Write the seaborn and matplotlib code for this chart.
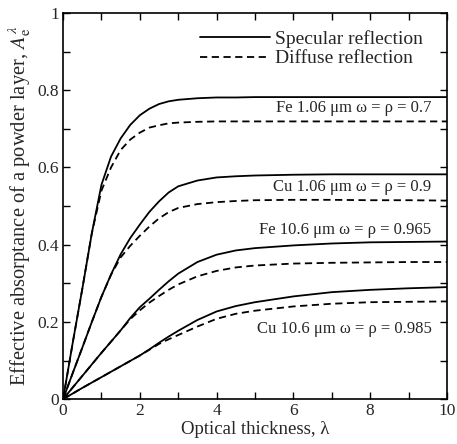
import numpy as np
import pandas as pd
import matplotlib
matplotlib.use("Agg")
import matplotlib.pyplot as plt
from matplotlib.ticker import MultipleLocator, FuncFormatter
from matplotlib.lines import Line2D
import seaborn as sns

# ---- data ----
lam = [0, 0.25, 0.5, 0.75, 1.0, 1.25, 1.5, 1.75, 2.0, 2.25, 2.5, 2.75, 3.0,
       3.5, 4.0, 4.5, 5.0, 6.0, 7.0, 8.0, 9.0, 10.0]

fe106_spec = [0, 0.145, 0.285, 0.43, 0.555, 0.628, 0.675, 0.71, 0.735, 0.752, 0.764,
              0.771, 0.775, 0.779, 0.781, 0.781, 0.782, 0.782, 0.782, 0.782, 0.782, 0.782]
fe106_diff = [0, 0.145, 0.285, 0.43, 0.54, 0.60, 0.645, 0.672, 0.69, 0.703, 0.709,
              0.714, 0.716, 0.718, 0.719, 0.719, 0.719, 0.719, 0.719, 0.719, 0.719, 0.719]

cu106_spec = [0, 0.067, 0.133, 0.2, 0.265, 0.323, 0.375, 0.417, 0.452, 0.485, 0.512,
              0.535, 0.551, 0.566, 0.574, 0.577, 0.579, 0.581, 0.582, 0.582, 0.582, 0.582]
cu106_diff = [0, 0.067, 0.133, 0.2, 0.265, 0.322, 0.367, 0.397, 0.423, 0.447, 0.468,
              0.484, 0.495, 0.505, 0.51, 0.513, 0.515, 0.516, 0.516, 0.515, 0.515, 0.514]

fe106b_spec = [0, 0.03, 0.06, 0.09, 0.12, 0.149, 0.178, 0.21, 0.238, 0.26, 0.283,
               0.305, 0.325, 0.355, 0.374, 0.385, 0.391, 0.398, 0.403, 0.406, 0.407, 0.408]
fe106b_diff = [0, 0.03, 0.06, 0.09, 0.12, 0.149, 0.178, 0.207, 0.23, 0.25, 0.267,
               0.283, 0.297, 0.318, 0.332, 0.341, 0.346, 0.351, 0.353, 0.354, 0.355, 0.355]

cu106b_spec = [0, 0.0145, 0.029, 0.043, 0.057, 0.071, 0.085, 0.099, 0.113, 0.129, 0.146,
               0.162, 0.177, 0.205, 0.227, 0.241, 0.251, 0.266, 0.277, 0.283, 0.287, 0.29]
cu106b_diff = [0, 0.0145, 0.029, 0.043, 0.057, 0.071, 0.085, 0.099, 0.113, 0.128, 0.143,
               0.155, 0.166, 0.188, 0.208, 0.221, 0.229, 0.24, 0.247, 0.251, 0.252, 0.253]

materials = ["Fe 1.06", "Cu 1.06", "Fe 10.6", "Cu 10.6"]
labels = ["Fe 1.06 \u03bcm \u03c9 = \u03c1 = 0.7",
          "Cu 1.06 \u03bcm \u03c9 = \u03c1 = 0.9",
          "Fe 10.6 \u03bcm \u03c9 = \u03c1 = 0.965",
          "Cu 10.6 \u03bcm \u03c9 = \u03c1 = 0.985"]
label_y = [0.753, 0.548, 0.439, 0.182]
legend_labels = ["Specular reflection", "Diffuse reflection"]

spec = [fe106_spec, cu106_spec, fe106b_spec, cu106b_spec]
diff = [fe106_diff, cu106_diff, fe106b_diff, cu106b_diff]

rows = []
for m, s, d in zip(materials, spec, diff):
    for x, v in zip(lam, s):
        rows.append((m, "Specular", x, v))
    for x, v in zip(lam, d):
        rows.append((m, "Diffuse", x, v))
df = pd.DataFrame(rows, columns=["material", "reflection", "lam", "value"])
df["curve"] = df["material"] + " " + df["reflection"]

# ---- plot ----
sns.set_style("ticks")
plt.rcParams["font.family"] = ["Liberation Serif", "DejaVu Serif"]
plt.rcParams["mathtext.fontset"] = "stix"

fig = plt.figure(figsize=(4.57, 4.44), dpi=100)
ax = fig.add_axes([0.138, 0.101, 0.840, 0.870])

sns.lineplot(data=df, x="lam", y="value", units="curve", estimator=None,
             style="reflection", dashes={"Specular": "", "Diffuse": (4, 2.5)},
             color="black", linewidth=1.3, ax=ax, legend=False, sort=False)

ax.set_xlim(0, 10)
ax.set_ylim(0, 1)
ax.xaxis.set_major_locator(MultipleLocator(2))
ax.xaxis.set_minor_locator(MultipleLocator(1))
ax.yaxis.set_major_locator(MultipleLocator(0.2))
ax.yaxis.set_minor_locator(MultipleLocator(0.1))
fmt = FuncFormatter(lambda v, p: ("%g" % round(v, 2)))
ax.xaxis.set_major_formatter(fmt)
ax.yaxis.set_major_formatter(fmt)
ax.tick_params(which="both", direction="in", top=True, right=True, labelsize=12.5,
               color="black", pad=3)
ax.tick_params(which="major", length=5, width=1)
ax.tick_params(which="minor", length=5, width=1)
for sp in ax.spines.values():
    sp.set_color("black")
    sp.set_linewidth(1.2)

ax.set_xlabel("Optical thickness, \u03bb", fontsize=13.5, labelpad=1)
ax.set_ylabel(r"Effective absorptance of a powder layer, $\mathit{A}_{\mathrm{e}}^{\lambda}$",
              fontsize=14.8, labelpad=3)

for lab, yv in zip(labels, label_y):
    ax.text(9.6, yv, lab, ha="right", va="center", fontsize=12)

handles = [Line2D([], [], color="black", lw=1.3, ls="-"),
           Line2D([], [], color="black", lw=1.3, ls=(0, (4, 2.5)))]
ax.legend(handles, legend_labels, loc="upper right", frameon=False,
          fontsize=14, handlelength=3.6, handletextpad=0.25,
          borderaxespad=0.0, labelspacing=0.08, bbox_to_anchor=(0.957, 0.975))

fig.savefig("out.png", dpi=100)
